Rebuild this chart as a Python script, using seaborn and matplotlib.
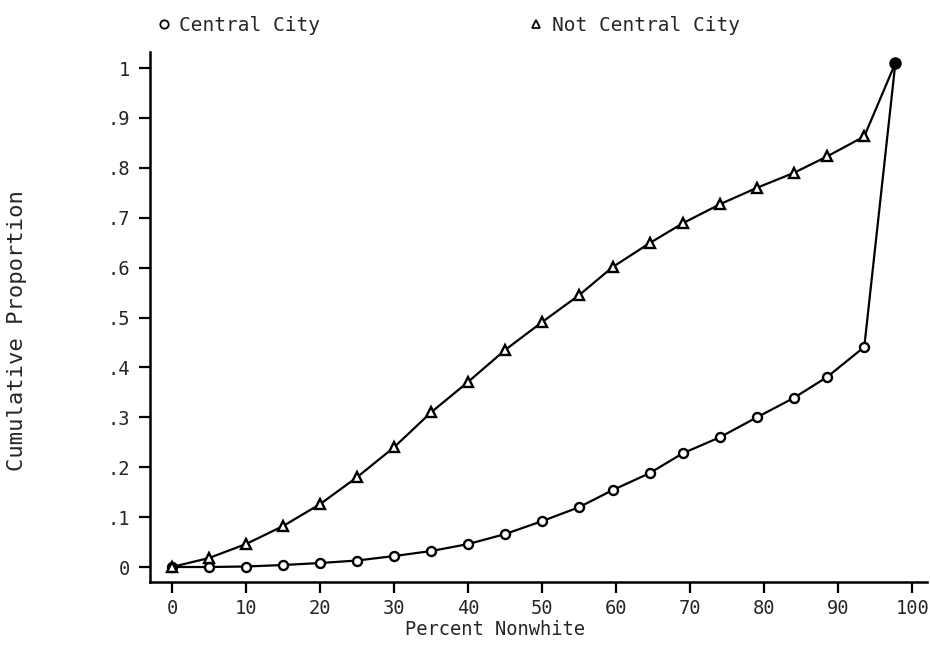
import numpy as np
import matplotlib
matplotlib.use("Agg")
import matplotlib.pyplot as plt
from matplotlib.lines import Line2D
import seaborn as sns

# Percent nonwhite (x) and cumulative proportions
pct_nonwhite = [0, 5, 10, 15, 20, 25, 30, 35, 40, 45, 50, 55,
                59.5, 64.5, 69, 74, 79, 84, 88.5, 93.5, 97.7]
central_city = [0.0, 0.0, 0.001, 0.004, 0.008, 0.013, 0.022, 0.032, 0.046, 0.066, 0.092, 0.12,
                0.154, 0.188, 0.228, 0.26, 0.30, 0.339, 0.381, 0.441, 1.01]
not_central = [0.0, 0.018, 0.046, 0.082, 0.126, 0.18, 0.24, 0.31, 0.371, 0.435, 0.491, 0.545,
               0.601, 0.649, 0.689, 0.727, 0.76, 0.79, 0.823, 0.863, 1.01]

x_ticks = [0, 10, 20, 30, 40, 50, 60, 70, 80, 90, 100]
y_ticks = [0, 0.1, 0.2, 0.3, 0.4, 0.5, 0.6, 0.7, 0.8, 0.9, 1.0]
y_tick_labels = ["0", ".1", ".2", ".3", ".4", ".5", ".6", ".7", ".8", ".9", "1"]

sns.set_style("ticks")
plt.rcParams['font.family'] = ['DejaVu Sans Mono', 'DejaVu Sans']

fig = plt.figure(figsize=(9.3, 6.47), dpi=100)
ax = fig.add_axes([0.161, 0.1005, 0.836, 0.819])

# everything but the last (shared) point gets an open marker
n = len(pct_nonwhite) - 1
sns.lineplot(x=pct_nonwhite, y=central_city, ax=ax, color="black", linewidth=1.6,
             marker="o", markersize=6.5, markerfacecolor="white", markeredgecolor="black",
             markeredgewidth=1.7, markevery=list(range(n)))
sns.lineplot(x=pct_nonwhite, y=not_central, ax=ax, color="black", linewidth=1.6,
             marker="^", markersize=6.5, markerfacecolor="white", markeredgecolor="black",
             markeredgewidth=1.7, markevery=list(range(n)))
# both curves end on the same point, which prints as a solid dot
ax.plot(pct_nonwhite[-1], central_city[-1], "o", color="black", markersize=8)

ax.set_xlim(-3, 102)
ax.set_ylim(-0.03, 1.032)
ax.set_xticks(x_ticks)
ax.set_yticks(y_ticks)
ax.set_yticklabels(y_tick_labels)
ax.tick_params(axis="both", labelsize=13.5, width=1.6, length=8, color="black")
ax.tick_params(axis="y", pad=6)
ax.tick_params(axis="x", pad=4)
sns.despine(ax=ax)
for side in ["left", "bottom"]:
    ax.spines[side].set_linewidth(1.8)
    ax.spines[side].set_color("black")

ax.set_xlabel("Percent Nonwhite", fontsize=13.5)
ax.xaxis.set_label_coords(0.444, -0.072)
ax.set_ylabel("Cumulative Proportion", fontsize=16)
ax.yaxis.set_label_coords(-0.158, 0.475)

# Legend sits above the plot, markers only
handles = [Line2D([], [], linestyle="none", marker="o", markersize=6,
                  markerfacecolor="white", markeredgecolor="black", markeredgewidth=1.3),
           Line2D([], [], linestyle="none", marker="^", markersize=6,
                  markerfacecolor="white", markeredgecolor="black", markeredgewidth=1.3)]
ax.legend(handles, ["Central City", "Not Central City"], ncol=2, frameon=False,
          loc="lower left", bbox_to_anchor=(-0.012, 1.0), fontsize=14,
          handlelength=0.6, handletextpad=0.5, columnspacing=10.8)

plt.savefig("out.png", dpi=100)
plt.close()
